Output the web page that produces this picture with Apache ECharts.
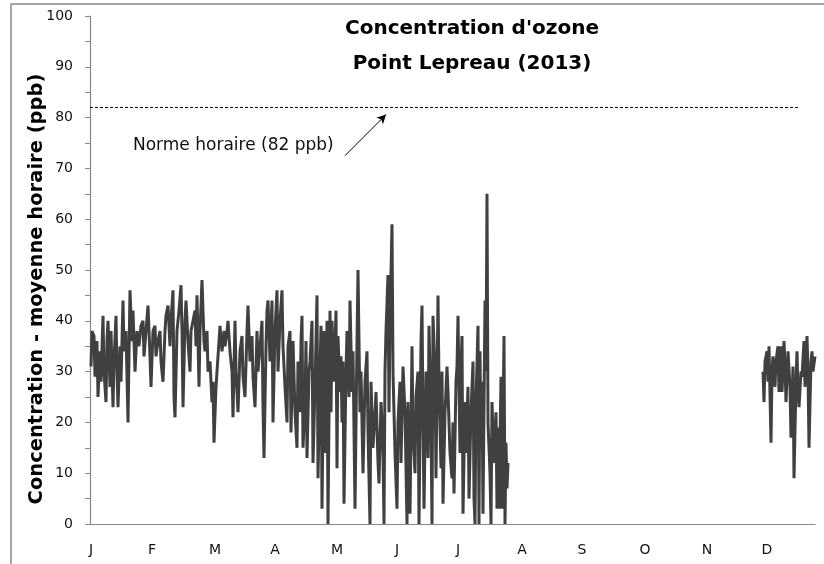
<!DOCTYPE html>
<html>
<head>
<meta charset="utf-8">
<script src="https://cdn.jsdelivr.net/npm/echarts@6/dist/echarts.min.js"></script>
<style>html,body{margin:0;padding:0;background:#fff}#c{width:824px;height:564px}</style>
</head>
<body>
<div id="c"></div>
<script>
// x positions are day-of-year, y values are ozone concentration (ppb)
const monthLabels = ['J','F','M','A','M','J','J','A','S','O','N','D'];
const monthLabelDays = [0.5,31,62.5,92.5,123.5,153.5,184,216,246,277.5,308.5,338.5];

const springDays = [0.5,1,2,2.5,3.5,4,5,5.5,6.5,7,8,8.5,9,10,10.5,11.5,12,13,13.5,14,15,15.5,16.5,17,18,19,20,21,21.5,22.5,23.5,24.5,25.5,26.5,27,28,29,30,30.5,31.5,32.5,33,34,35,35.5,36.5,37.5,38,39,40,40.5,41.5,42,42.5,43.5,44.5,45.5,46,46.5,47.5,48,49,50,50.5,51.5,52.5,53,53.5,54.5,55,56,57,57.5,58.5,59,60,61,61.5,62,63,63.5,64.5,65,66,67,67.5,68.5,69,70,71,71.5,72.5,73,74,75,76,76.5,77.5,78.5,79,80,81,81.5,82.5,83.5,84,85,86,86.5,87,88,88.5,89,90,91,91.5,92.5,93.5,94,95,96,96.5,97.5,98.5,99,100,100.5,101.5,102.5,103.5,104,105,105.5,106,106.5,107.5,108,108.5,109.5,110,111,111.5,112.5,113.5,114,115,115.5,116,117,117.5,118.5,119,120,120.5,121,122,123,123.5,124,125,125.5,126,126.5,127,128,128.5,129.5,130,131,131.5,132.5,133.5,134,135,135.5,136.5,137.5,138.5,139,140,140.5,141.5,142.5,143,144,144.5,145.5,146,146.5,147,147.5,148,149,149.5,150,151,151.5,152.5,153.5,154,155,155.5,156.5,157.5,158.5,159,160,161,161.5,162.5,163,164,164.5,165.5,166,166.5,167,168,168.5,169,169.5,170.5,171,171.5,172.5,173,174,174.5,175.5,176,176.5,177.5,178.5,179,180,181,181.5,182,183,183.5,184,185,185.5,186,186.5,187.5,188,189,189.5,190.5,191.5,192,192.5,193,194,194.5,195,195.5,196,196.5,197.5,198,198.5,199,200,200.5,201,202,203,203.5,204,204.5,205.5,206,207,207.5,208,208.5,209];
const springOzone = [31,38,37,29,36,25,34,28,41,30,24,36,40,27,38,23,32,41,30,23,35,28,44,34,38,20,46,36,42,30,38,35,39,40,33,38,43,33,27,38,39,33,36,38,32,28,38,41,43,35,40,46,25,21,38,42,47,38,23,40,44,36,30,38,40,42,35,45,27,38,48,36,34,38,30,32,24,28,16,27,30,36,39,34,38,35,38,40,34,30,21,40,30,22,34,37,29,25,38,43,32,37,29,23,38,30,35,40,23,13,35,42,44,32,44,20,38,46,30,40,46,35,27,20,35,38,18,36,22,15,32,22,36,41,15,24,36,13,30,32,40,12,27,45,9,30,39,3,38,14,40,0,42,22,40,28,42,11,37,26,33,20,32,4,30,38,25,44,26,34,3,36,50,22,30,10,28,34,18,0,28,15,22,26,12,8,24,20,14,0,30,38,49,22,40,59,30,14,3,20,28,12,31,22,0,24,2,35,18,10,25,30,0,36,43,20,3,30,24,13,39,20,0,41,30,9,45,28,11,30,4,22,31,26,14,9,20,6,28,31,41,14,30,37,2,24,14,27,5,22,32,5,0,24,39,0,34,15,28,2,44,30,65,20,10,0,24,12,22,3,19,3,29,3,37,0,16,7,12];

const decemberDays = [336.5,337,337.5,338.5,339,339.5,340.5,341,341.5,342.5,343,344,344.5,345.5,346,347,347.5,348,349,350,350.5,351.5,352,353,353.5,354,354.5,355.5,356,357,357.5,358.5,359,359.5,360.5,361,361.5,362.5];
const decemberOzone = [30,24,32,34,28,35,16,30,33,27,32,35,26,35,26,36,31,24,34,27,17,31,9,28,34,26,23,30,29,36,27,37,30,15,32,34,30,33];

const normValue = 82;
const normDays = [0, 354];
const arrowFrom = [127.5, 72.5];
const arrowTo = [148, 80.6];

const zip = (xs, ys) => xs.map((x, i) => [x, ys[i]]);

const lineStyle = { color: '#404040', width: 3 };
const chart = echarts.init(document.getElementById('c'), null, { renderer: 'canvas' });
chart.setOption({
  animation: false,
  backgroundColor: '#fff',
  title: {
    text: "Concentration d'ozone\nPoint Lepreau (2013)",
    left: 467, top: 6, textAlign: 'center',
    textStyle: { fontFamily: 'DejaVu Sans', fontWeight: 'bold', fontSize: 20, lineHeight: 35, color: '#000' }
  },
  grid: { left: 90, right: 9, top: 16, bottom: 40, containLabel: false },
  xAxis: {
    type: 'value', min: 0, max: 362.5,
    axisLine: { show: true, lineStyle: { color: '#888', width: 1.2 } },
    axisTick: { show: false },
    splitLine: { show: false },
    axisLabel: {
      customValues: monthLabelDays,
      margin: 19,
      fontFamily: 'DejaVu Sans', fontSize: 14, color: '#111',
      formatter: v => monthLabels[monthLabelDays.indexOf(v)] ?? ''
    }
  },
  yAxis: {
    type: 'value', min: 0, max: 100, interval: 10,
    axisLine: { show: true, lineStyle: { color: '#888', width: 1.2 } },
    axisTick: { show: true, length: 5, lineStyle: { color: '#888' } },
    minorTick: { show: true, splitNumber: 2, length: 5, lineStyle: { color: '#888' } },
    splitLine: { show: false },
    axisLabel: { margin: 17, fontFamily: 'DejaVu Sans', fontSize: 14, color: '#111' }
  },
  graphic: [
    { type: 'rect', shape: { x: 11, y: 4, width: 900, height: 900 }, style: { fill: 'none', stroke: '#8a8a8a', lineWidth: 1.5 }, silent: true, z: 100 },
    { type: 'text', left: 133, top: 137, style: { text: 'Norme horaire (82 ppb)', font: '17px "DejaVu Sans"', fill: '#111' } },
    { type: 'text', x: 37, y: 289, rotation: Math.PI / 2,
      style: { text: 'Concentration - moyenne horaire (ppb)', font: 'bold 19.5px "DejaVu Sans"', fill: '#000', align: 'center', verticalAlign: 'middle' } }
  ],
  series: [
    { type: 'line', data: zip(springDays, springOzone), showSymbol: false, lineStyle, silent: true },
    { type: 'line', data: zip(decemberDays, decemberOzone), showSymbol: false, lineStyle, silent: true },
    {
      type: 'line', data: normDays.map(d => [d, normValue]), showSymbol: false, silent: true,
      lineStyle: { color: '#000', width: 1, type: [3, 2] },
      markLine: {
        silent: true, symbol: ['none', 'arrow'], symbolSize: [7, 9],
        label: { show: false },
        lineStyle: { color: '#000', width: 1, type: 'solid' },
        data: [[{ coord: arrowFrom }, { coord: arrowTo }]]
      }
    }
  ]
});
</script>
</body>
</html>
